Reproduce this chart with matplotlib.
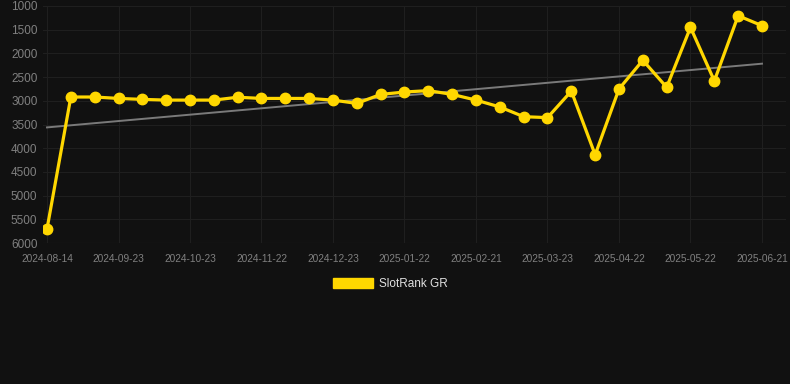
import numpy as np
import matplotlib
matplotlib.use("Agg")
import matplotlib.pyplot as plt
from matplotlib.patches import Patch

plt.rcParams['font.family'] = ['Liberation Sans', 'DejaVu Sans']

dates = ["2024-08-14", "2024-09-03", "2024-09-13", "2024-09-23", "2024-10-03",
         "2024-10-13", "2024-10-23", "2024-11-02", "2024-11-12", "2024-11-22",
         "2024-12-02", "2024-12-12", "2024-12-23", "2025-01-02", "2025-01-12",
         "2025-01-22", "2025-02-01", "2025-02-11", "2025-02-21", "2025-03-03",
         "2025-03-13", "2025-03-23", "2025-04-02", "2025-04-12", "2025-04-22",
         "2025-05-02", "2025-05-12", "2025-05-22", "2025-06-01", "2025-06-11",
         "2025-06-21"]
rank = [5705, 2920, 2920, 2950, 2970, 2985, 2985, 2985, 2925, 2950,
        2950, 2950, 2985, 3055, 2865, 2815, 2785, 2865, 2985, 3130,
        3335, 3355, 2795, 4140, 2750, 2145, 2715, 1450, 2580, 1205,
        1415]
series_name = "SlotRank GR"
yticks = [1000, 1500, 2000, 2500, 3000, 3500, 4000, 4500, 5000, 5500, 6000]

bg = "#111111"
gold = "#FFD700"
grid = "#1f1f1f"
text = "#808080"

fig = plt.figure(figsize=(7.9, 3.84), dpi=100, facecolor=bg)
ax = fig.add_axes([43 / 790, 1 - 243 / 384, (786 - 43) / 790, (243 - 6) / 384])
ax.set_facecolor(bg)

x = np.arange(len(rank))
# trend line (least squares fit)
k, b = np.polyfit(x, rank, 1)
ax.plot(x, k * x + b, color="#7a7a7a", lw=1.4, zorder=2)
ax.plot(x, rank, color=gold, lw=2.3, marker="o", ms=7.5, zorder=3)

px = 23.83
ax.set_xlim(-4 / px, 30 + 24 / px)
ax.set_ylim(6000, 1000)
ax.set_yticks(yticks)
ax.set_yticklabels([str(v) for v in yticks], fontsize=8.5, color=text)
tick_idx = x[::3]
ax.set_xticks(tick_idx)
ax.set_xticklabels([dates[i] for i in tick_idx], fontsize=7.3, color=text)
ax.tick_params(length=0, pad=4)
ax.tick_params(axis='x', pad=8)
ax.grid(True, color=grid, lw=0.8)
for s in ax.spines.values():
    s.set_visible(False)
ax.axhline(6000, color="#2a2a2a", lw=0.8)

fig.legend(handles=[Patch(color=gold, label=series_name)], loc="center",
           bbox_to_anchor=(390 / 790, 1 - 284 / 384), frameon=False,
           fontsize=8.5, labelcolor="#e0e0e0", handlelength=3.4,
           handleheight=1.0, handletextpad=0.5)

fig.savefig("out.png", dpi=100, facecolor=bg)
